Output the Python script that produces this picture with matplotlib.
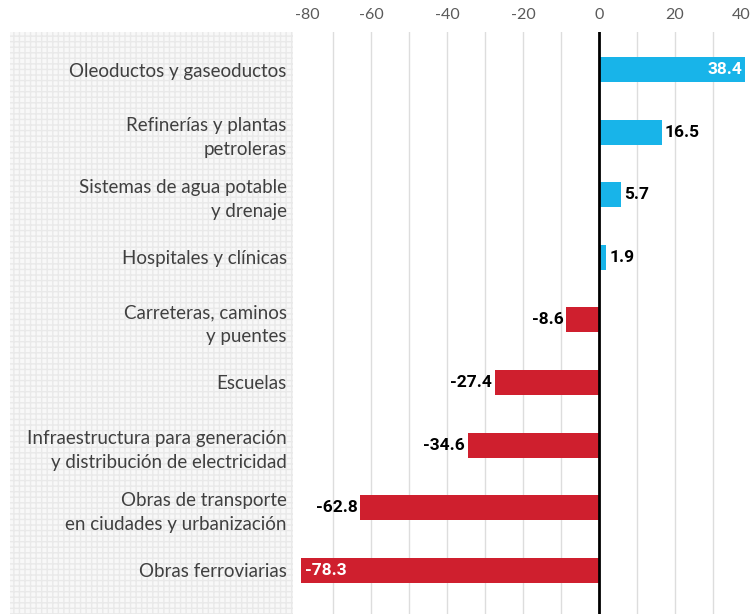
#Gráfica de barras horizontales: variación por tipo de obra
from matplotlib import pyplot as plt
from matplotlib.patches import Rectangle

#Datos
categorias = ["Oleoductos y gaseoductos",
              "Refinerías y plantas\npetroleras",
              "Sistemas de agua potable\ny drenaje",
              "Hospitales y clínicas",
              "Carreteras, caminos\ny puentes",
              "Escuelas",
              "Infraestructura para generación\ny distribución de electricidad",
              "Obras de transporte\nen ciudades y urbanización",
              "Obras ferroviarias"]
valores = [38.4, 16.5, 5.7, 1.9, -8.6, -27.4, -34.6, -62.8, -78.3]
marcas_x = [-80, -60, -40, -20, 0, 20, 40]

azul = "#18b4e9"
rojo = "#cf1f2e"

fig = plt.figure(figsize=(7.51, 6.14), dpi=100)

#Panel gris punteado detrás de las etiquetas
panel = Rectangle((10 / 751, 0), (293 - 10) / 751, (614 - 32) / 614,
                  transform=fig.transFigure, facecolor="#f8f8f8",
                  edgecolor="#e9e9e9", hatch="+++", linewidth=0, zorder=0)
fig.patches.append(panel)

ax = fig.add_axes([295 / 751, 0, 1 - 295 / 751, (614 - 32) / 614])
ax.set_zorder(2)
ax.patch.set_alpha(0)

ys = list(range(len(categorias)))
colores = [azul if v > 0 else rojo for v in valores]
ax.barh(ys, valores, height=0.4, color=colores, zorder=3)

#Líneas de la cuadrícula cada 10 unidades
for x in range(-70, 40, 10):
    if x != 0:
        ax.axvline(x, color="#dddddd", linewidth=1, zorder=1)
ax.axvline(0, color="black", linewidth=2, zorder=4)

ax.set_xlim(-80, 40)
ax.set_ylim(len(categorias) - 0.3, -0.6)

ax.xaxis.tick_top()
ax.set_xticks(marcas_x)
etiquetas_x = ax.set_xticklabels([str(m) for m in marcas_x], fontsize=11.5,
                                 color="#5a5a5a", fontfamily="Lato")
etiquetas_x[0].set_horizontalalignment("left")
etiquetas_x[-1].set_horizontalalignment("right")
ax.tick_params(axis="x", length=0, pad=7)

ax.set_yticks(ys)
ax.set_yticklabels(categorias, fontsize=13.5, color="#404040",
                   fontfamily="Lato", linespacing=1.5)
ax.tick_params(axis="y", length=0, pad=6)

for s in ax.spines.values():
    s.set_visible(False)

#Etiquetas con los valores
for y, v in zip(ys, valores):
    if v == 38.4:
        ax.text(v - 0.8, y, f"{v}", ha="right", va="center", color="white",
                fontsize=12.5, fontweight="bold", fontfamily="Roboto", zorder=5)
    elif v == -78.3:
        ax.text(v + 0.8, y, f"{v}", ha="left", va="center", color="white",
                fontsize=12.5, fontweight="bold", fontfamily="Roboto", zorder=5)
    elif v > 0:
        ax.text(v + 0.8, y, f"{v}", ha="left", va="center", color="black",
                fontsize=12.5, fontweight="bold", fontfamily="Roboto", zorder=5)
    else:
        ax.text(v - 0.8, y, f"{v}", ha="right", va="center", color="black",
                fontsize=12.5, fontweight="bold", fontfamily="Roboto", zorder=5)

plt.savefig("out.png", dpi=100)
